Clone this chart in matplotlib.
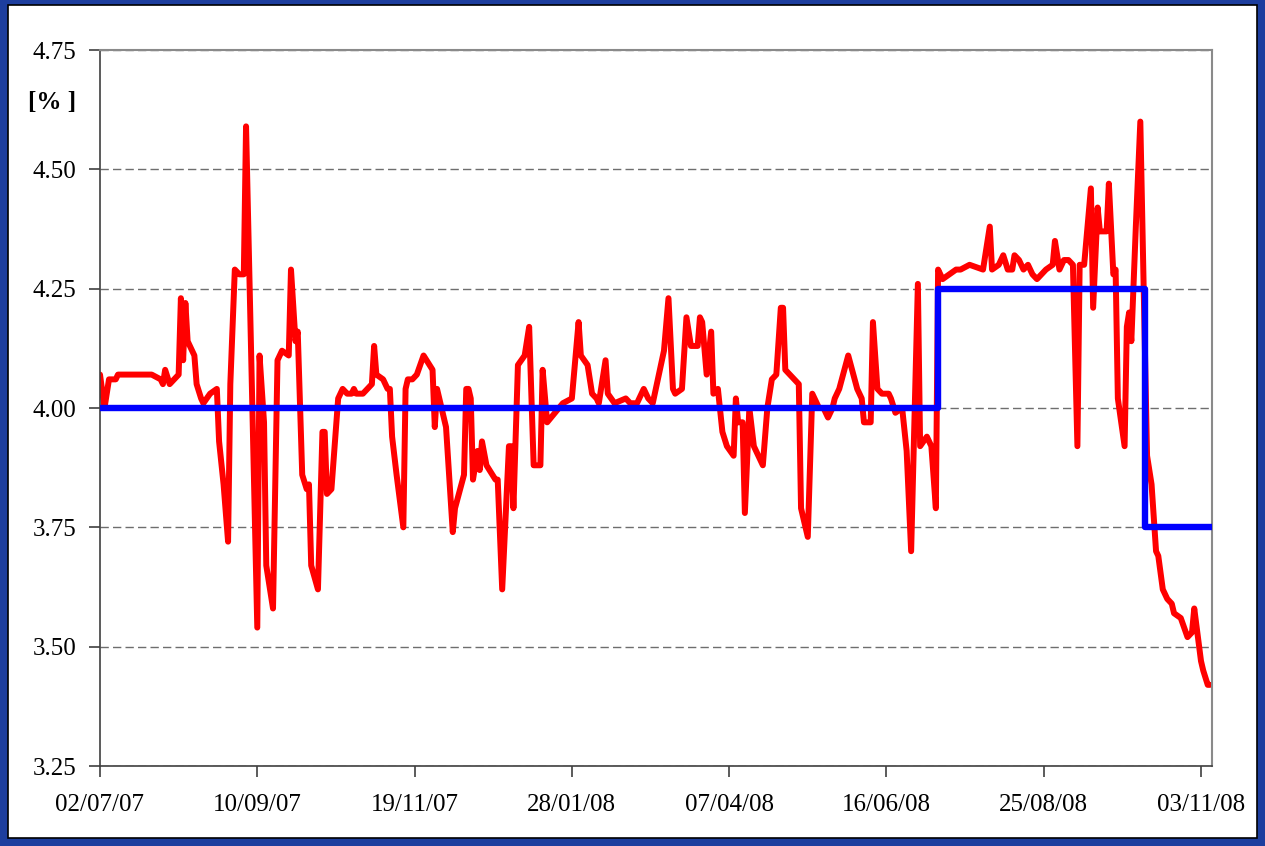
import matplotlib
matplotlib.use("Agg")
import matplotlib.pyplot as plt
import matplotlib.dates as mdates
from matplotlib.patches import Rectangle
from matplotlib.ticker import FormatStrFormatter
import pandas as pd

start = pd.Timestamp("2007-07-02")

# overnight rate: day offset from 02/07/07 and value in %
days = [0, 2, 4, 7, 8, 23, 27, 28, 29, 31, 35, 36, 37, 38, 39, 42, 43, 45, 46, 49,
        52, 53, 55, 57, 58, 60, 62, 64, 65, 70, 71, 73, 74, 77, 79, 81, 84, 85, 87, 88,
        90, 92, 93, 94, 97, 99, 100, 101, 103, 106, 108, 110, 112, 113, 114, 117, 119, 121, 122, 123,
        126, 128, 129, 130, 132, 135, 136, 137, 139, 141, 144, 148, 149, 150, 154, 157, 158, 162, 163, 164,
        165, 166, 168, 169, 170, 172, 176, 177, 179, 182, 183, 184, 186, 189, 191, 193, 196, 197, 199, 206,
        210, 213, 214, 217, 219, 221, 222, 225, 226, 229, 234, 236, 239, 242, 244, 246, 251, 253, 255, 256,
        259, 261, 263, 266, 267, 268, 270, 272, 273, 275, 277, 279, 282, 283, 284, 286, 287, 289, 291, 295,
        297, 299, 301, 303, 304, 305, 309, 311, 312, 315, 317, 319, 320, 322, 324, 326, 327, 329, 333, 337,
        339, 340, 343, 344, 346, 348, 351, 352, 354, 357, 359, 361, 364, 365, 368, 370, 372, 373, 375, 378,
        381, 383, 387, 393, 396, 397, 400, 402, 404, 406, 407, 409, 411, 413, 415, 417, 419, 421, 424, 425,
        427, 429, 431, 433, 435, 436, 438, 441, 442, 444, 445, 448, 449, 451, 452, 453, 456, 457, 458, 459,
        461, 463, 466, 468, 470, 471, 473, 475, 477, 478, 481, 484, 486, 487, 490, 491, 493, 494]
rates = [4.07, 4.00, 4.06, 4.06, 4.07, 4.07, 4.06, 4.05, 4.08, 4.05, 4.07, 4.23, 4.10, 4.22, 4.14, 4.11, 4.05, 4.02, 4.01, 4.03,
         4.04, 3.93, 3.84, 3.72, 4.05, 4.29, 4.28, 4.28, 4.59, 3.54, 4.11, 3.97, 3.67, 3.58, 4.10, 4.12, 4.11, 4.29, 4.14, 4.16,
         3.86, 3.83, 3.84, 3.67, 3.62, 3.95, 3.95, 3.82, 3.83, 4.02, 4.04, 4.03, 4.03, 4.04, 4.03, 4.03, 4.04, 4.05, 4.13, 4.07,
         4.06, 4.04, 4.04, 3.94, 3.86, 3.75, 4.04, 4.06, 4.06, 4.07, 4.11, 4.08, 3.96, 4.04, 3.96, 3.74, 3.79, 3.86, 4.04, 4.04,
         4.02, 3.85, 3.91, 3.87, 3.93, 3.88, 3.85, 3.85, 3.62, 3.92, 3.92, 3.79, 4.09, 4.11, 4.17, 3.88, 3.88, 4.08, 3.97, 4.01,
         4.02, 4.18, 4.11, 4.09, 4.03, 4.02, 4.01, 4.10, 4.03, 4.01, 4.02, 4.01, 4.01, 4.04, 4.02, 4.01, 4.12, 4.23, 4.04, 4.03,
         4.04, 4.19, 4.13, 4.13, 4.19, 4.18, 4.07, 4.16, 4.03, 4.04, 3.95, 3.92, 3.90, 4.02, 3.97, 3.97, 3.78, 4.00, 3.92, 3.88,
         4.00, 4.06, 4.07, 4.21, 4.21, 4.08, 4.06, 4.05, 3.79, 3.73, 4.03, 4.01, 4.00, 4.00, 3.98, 4.00, 4.02, 4.04, 4.11, 4.04,
         4.02, 3.97, 3.97, 4.18, 4.04, 4.03, 4.03, 4.02, 3.99, 4.00, 3.91, 3.70, 4.26, 3.92, 3.94, 3.92, 3.79, 4.29, 4.27, 4.28,
         4.29, 4.29, 4.30, 4.29, 4.38, 4.29, 4.30, 4.32, 4.29, 4.29, 4.32, 4.31, 4.29, 4.30, 4.28, 4.27, 4.28, 4.29, 4.30, 4.35,
         4.29, 4.31, 4.31, 4.30, 3.92, 4.30, 4.30, 4.46, 4.21, 4.42, 4.37, 4.37, 4.47, 4.28, 4.29, 4.02, 3.92, 4.17, 4.20, 4.14,
         4.38, 4.60, 3.90, 3.84, 3.70, 3.69, 3.62, 3.60, 3.59, 3.57, 3.56, 3.52, 3.53, 3.58, 3.47, 3.45, 3.42, 3.42]

# policy rate steps
policy_dates = ["2007-07-02", "2008-07-09", "2008-10-09", "2008-11-07"]
policy_rates = [4.00, 4.25, 3.75, 3.75]

tick_dates = ["2007-07-02", "2007-09-10", "2007-11-19", "2008-01-28",
              "2008-04-07", "2008-06-16", "2008-08-25", "2008-11-03"]
y_ticks = [3.25, 3.50, 3.75, 4.00, 4.25, 4.50, 4.75]

plt.rcParams["font.family"] = ["Liberation Serif", "DejaVu Serif"]

fig = plt.figure(figsize=(12.65, 8.46), dpi=100)
fig.patch.set_facecolor("#1d3e9e")
fig.add_artist(Rectangle((8 / 1265, 8 / 846), 1249 / 1265, 833 / 846,
                         transform=fig.transFigure, facecolor="white",
                         edgecolor="black", lw=1.2, zorder=0))

ax = fig.add_axes([100 / 1265, 80 / 846, 1112 / 1265, 716 / 846])
ax.set_facecolor("white")

red_dates = start + pd.to_timedelta(days, unit="D")
ax.plot(red_dates, rates, color="#ff0000", lw=4.3, solid_joinstyle="round",
        solid_capstyle="round", zorder=2)
ax.plot(pd.to_datetime(policy_dates), policy_rates, color="#0000ff", lw=4.6,
        drawstyle="steps-post", zorder=3)

ax.set_ylim(3.25, 4.75)
ax.set_yticks(y_ticks)
ax.yaxis.set_major_formatter(FormatStrFormatter("%.2f"))
ax.set_xlim(start, start + pd.Timedelta(days=494.9))
ax.set_xticks(pd.to_datetime(tick_dates))
ax.xaxis.set_major_formatter(mdates.DateFormatter("%d/%m/%y"))

ax.yaxis.grid(True, linestyle=(0, (6, 3)), color="#6e6e6e", lw=1)
ax.set_axisbelow(True)

for side in ["left", "bottom"]:
    ax.spines[side].set_color("#404040")
    ax.spines[side].set_linewidth(1.2)
for side in ["top", "right"]:
    ax.spines[side].set_color("#8a8a8a")
    ax.spines[side].set_linewidth(1.5)

ax.tick_params(axis="both", direction="out", length=8, width=1.2,
               color="#404040", labelsize=18, labelcolor="black")
ax.tick_params(axis="y", pad=9)
ax.tick_params(axis="x", pad=12)

fig.text(52 / 1265, 1 - 103 / 846, "[% ]", ha="center", va="center",
         fontsize=18, fontweight="bold")

fig.savefig("out.png", dpi=100, facecolor=fig.get_facecolor())
